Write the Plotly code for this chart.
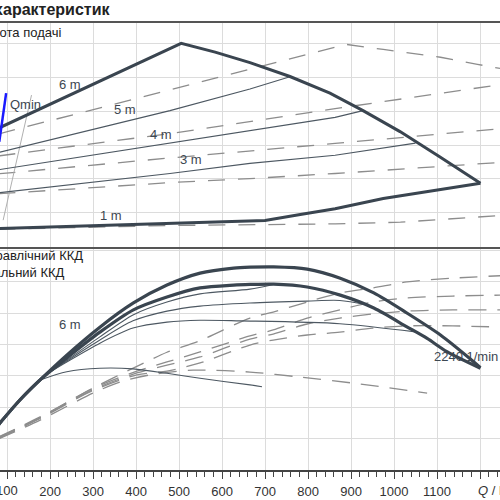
import plotly.graph_objects as go

# ---- top panel (head), x = Q in l/min, y in grid units ----
top_6m_q = [80, 505, 584, 665, 758, 851, 928, 1014, 1107, 1201]
top_6m_h = [3.50, 6.01, 5.75, 5.44, 5.03, 4.54, 4.02, 3.40, 2.65, 1.87]
top_1m_q = [80, 468, 700, 782, 863, 975, 1091, 1201]
top_1m_h = [0.53, 0.68, 0.77, 0.95, 1.12, 1.42, 1.66, 1.87]

top_5m_q = [80, 479, 665, 758]
top_5m_h = [2.78, 4.02, 4.66, 5.02]
top_4m_q = [80, 479, 665, 863, 928]
top_4m_h = [2.27, 3.05, 3.43, 3.82, 4.02]
top_3m_q = [80, 479, 665, 863, 1050]
top_3m_h = [1.59, 2.16, 2.46, 2.70, 3.06]

dash_a_q = [80, 889, 975, 1108, 1194, 1250]
dash_a_h = [3.33, 5.98, 5.83, 5.60, 5.39, 5.26]
dash_b_q = [80, 479, 863, 1231]
dash_b_h = [2.68, 3.34, 4.08, 4.76]
dash_c_q = [80, 479, 863, 1250]
dash_c_h = [2.15, 2.62, 3.05, 3.49]
dash_d_q = [80, 479, 665, 863, 1250]
dash_d_h = [1.56, 1.89, 2.01, 2.16, 2.49]
dash_1m_q = [80, 468, 863, 1015, 1250]
dash_1m_h = [0.51, 0.62, 0.67, 0.72, 0.92]

qmin_q = [98, 82]
qmin_h = [4.54, 3.10]
sys_q = [91, 123, 157]
sys_h = [0.78, 2.56, 4.48]

# ---- bottom panel (efficiency) ----
eff_hi_q = [80, 130, 177, 239, 316, 394, 472, 549, 627, 666, 720, 798, 875, 953, 1030, 1108, 1185, 1201]
eff_hi_e = [1.44, 2.23, 2.87, 3.66, 4.55, 5.32, 5.89, 6.27, 6.43, 6.46, 6.47, 6.40, 6.11, 5.64, 5.00, 4.30, 3.45, 3.26]
eff_lo_q = [80, 130, 177, 239, 316, 394, 472, 549, 627, 666, 720, 798, 875, 953, 1030, 1077, 1123, 1201]
eff_lo_e = [1.44, 2.23, 2.87, 3.57, 4.39, 5.10, 5.51, 5.80, 5.89, 5.91, 5.92, 5.83, 5.57, 5.16, 4.56, 4.19, 3.77, 3.24]

thin_a_q = [200, 239, 316, 393, 472, 549, 665, 719]
thin_a_e = [3.12, 3.50, 4.24, 4.94, 5.35, 5.61, 5.76, 5.91]
thin_b_q = [200, 239, 316, 393, 472, 549, 665, 798, 874, 935]
thin_b_e = [3.12, 3.47, 4.14, 4.75, 5.06, 5.22, 5.32, 5.38, 5.40, 5.27]
thin_c_q = [200, 239, 316, 393, 472, 549, 642, 874, 1050]
thin_c_e = [3.12, 3.44, 4.04, 4.52, 4.71, 4.77, 4.75, 4.66, 4.40]
hump_q = [177, 239, 316, 393, 472, 549, 665, 693]
hump_e = [2.87, 3.13, 3.24, 3.22, 3.08, 2.92, 2.71, 2.65]

tot_q = [80, 177, 300, 402, 472, 549, 665, 719, 798, 874, 951, 1030, 1137, 1250]
tot_1 = [1.05, 1.69, 2.61, 3.30, 3.75, 4.12, 4.84, 5.03, 5.35, 5.64, 5.80, 5.99, 6.11, 6.19]
tot_2 = [1.04, 1.67, 2.60, 3.15, 3.44, 3.76, 4.27, 4.46, 4.84, 5.10, 5.35, 5.48, 5.54, 5.57]
tot_3 = [1.02, 1.66, 2.56, 3.09, 3.34, 3.60, 4.17, 4.33, 4.65, 4.84, 4.97, 5.06, 5.10, 5.10]
tot_4 = [1.00, 1.64, 2.53, 3.03, 3.15, 3.41, 3.98, 4.14, 4.30, 4.39, 4.52, 4.59, 4.59, 4.55]
tot_5_q = [80, 177, 300, 363, 433, 533, 665, 781, 921, 1077]
tot_5_e = [0.99, 1.59, 2.45, 2.80, 3.03, 3.18, 3.12, 2.96, 2.74, 2.45]

x_ticks = [100, 200, 300, 400, 500, 600, 700, 800, 900, 1000, 1100, 1200]
x_labels = ['', '200', '300', '400', '500', '600', '700', '800', '900', '1000', '1100', '']

THICK = '#3a4550'
THIN = '#4d5862'
DASH = '#8d8d8d'
GRID = '#dcdcdc'
FONT = 'Liberation Sans, Arial, sans-serif'

fig = go.Figure()


def line(q, v, axis, color, width, dash='solid', spline=False):
    fig.add_trace(go.Scatter(
        x=q, y=v, mode='lines', xaxis='x' if axis == 'y' else 'x2', yaxis=axis,
        line=dict(color=color, width=width, dash=dash, shape='spline' if spline else 'linear', smoothing=0.8),
        hoverinfo='skip', showlegend=False
    ))


# top panel
dash_style = '17px,13px'
for q, h in [(dash_a_q, dash_a_h), (dash_b_q, dash_b_h), (dash_c_q, dash_c_h),
             (dash_d_q, dash_d_h), (dash_1m_q, dash_1m_h)]:
    line(q, h, 'y2', DASH, 1.3, dash_style)
line(sys_q, sys_h, 'y2', '#b0b0b0', 1)
for q, h in [(top_5m_q, top_5m_h), (top_4m_q, top_4m_h), (top_3m_q, top_3m_h)]:
    line(q, h, 'y2', THIN, 1.1)
line(top_6m_q, top_6m_h, 'y2', THICK, 3)
line(top_1m_q, top_1m_h, 'y2', THICK, 3)
line(qmin_q, qmin_h, 'y2', '#1a1aff', 2.5)

# bottom panel
for v in [tot_1, tot_2, tot_3, tot_4]:
    line(tot_q, v, 'y', DASH, 1.3, '18px,11px', spline=True)
line(tot_5_q, tot_5_e, 'y', DASH, 1.3, '18px,11px', spline=True)
for q, e in [(thin_a_q, thin_a_e), (thin_b_q, thin_b_e), (thin_c_q, thin_c_e), (hump_q, hump_e)]:
    line(q, e, 'y', THIN, 1.1, spline=True)
line(eff_hi_q, eff_hi_e, 'y', THICK, 3.2, spline=True)
line(eff_lo_q, eff_lo_e, 'y', THICK, 3.2, spline=True)

lab = dict(size=13, color='#3d4751', family=FONT)
annots = [
    dict(text='6 m', x=246, y=4.78, xref='x2', yref='y2'),
    dict(text='5 m', x=374, y=4.04, xref='x2', yref='y2'),
    dict(text='4 m', x=458, y=3.30, xref='x2', yref='y2'),
    dict(text='3 m', x=528, y=2.56, xref='x2', yref='y2'),
    dict(text='1 m', x=342, y=0.93, xref='x2', yref='y2'),
    dict(text='Qmin', x=102, y=4.19, xref='x2', yref='y2', xanchor='left'),
    dict(text='6 m', x=246, y=4.62, xref='x', yref='y'),
    dict(text='2240 1/min', x=1088, y=3.60, xref='x', yref='y', xanchor='left'),
]
for a in annots:
    a.setdefault('xanchor', 'center')
    fig.add_annotation(showarrow=False, font=lab, yanchor='middle', **a)

# panel captions (cut off at the left edge like the source crop)
fig.add_annotation(text='<b>Криві характеристик</b>', x=0.224, y=0.979, xref='paper', yref='paper',
                   xanchor='right', yanchor='middle', showarrow=False,
                   font=dict(size=16, color='#222', family=FONT))
for txt, xr, yp in [('Висота подачі', 0.126, 0.930), ('Гідравлічний ККД', 0.170, 0.457),
                    ('Загальний ККД', 0.134, 0.421)]:
    fig.add_annotation(text=txt, x=xr, y=yp, xref='paper', yref='paper', xanchor='right',
                       yanchor='middle', showarrow=False, font=dict(size=13, color='#222', family=FONT))

# first tick label sits on the crop edge, plotly would drop it, so place it by hand
fig.add_annotation(text='100', x=x_ticks[0], y=0, xref='x', yref='paper', xanchor='center',
                   yanchor='top', yshift=-11, showarrow=False, font=dict(size=13, color='#333', family=FONT))
fig.add_annotation(text='<i>Q</i> / l/min', x=1191, y=0, xref='x', yref='paper', xanchor='left',
                   yanchor='top', yshift=-11, showarrow=False, font=dict(size=13, color='#333', family=FONT))

xcommon = dict(range=[83.7, 1246.5], tickmode='array', tickvals=x_ticks, ticktext=x_labels,
               showgrid=True, gridcolor=GRID, gridwidth=1, zeroline=False)
ycommon = dict(showgrid=True, gridcolor=GRID, gridwidth=1, zeroline=False, showticklabels=False,
               ticks='', tick0=0, dtick=1)

fig.update_layout(
    width=500, height=500,
    margin=dict(l=0, r=0, t=0, b=30),
    plot_bgcolor='white', paper_bgcolor='white',
    showlegend=False,
    xaxis=dict(**xcommon, anchor='y', domain=[0, 1], showline=True, linecolor='#444', linewidth=1.5,
               ticks='outside', ticklen=7, tickcolor='#444', ticklabelstandoff=2,
               tickfont=dict(size=13, color='#333', family=FONT),
               minor=dict(dtick=20, tick0=0, ticks='outside', ticklen=5, tickcolor='#444', showgrid=False)),
    xaxis2=dict(**xcommon, anchor='y2', matches='x', showticklabels=False, ticks='',
                showline=True, mirror=True, linecolor='#555', linewidth=2),
    yaxis=dict(**ycommon, domain=[0, 0.4755], range=[0, 7.118]),
    yaxis2=dict(**ycommon, domain=[0.4755, 0.951], range=[0, 6.612]),
)

# the page body has a default 8px margin; drop it so the figure fills the window
fig.write_html("out.html", config={'displayModeBar': False},
               post_script="document.body.style.margin='0';document.body.style.overflow='hidden';")
